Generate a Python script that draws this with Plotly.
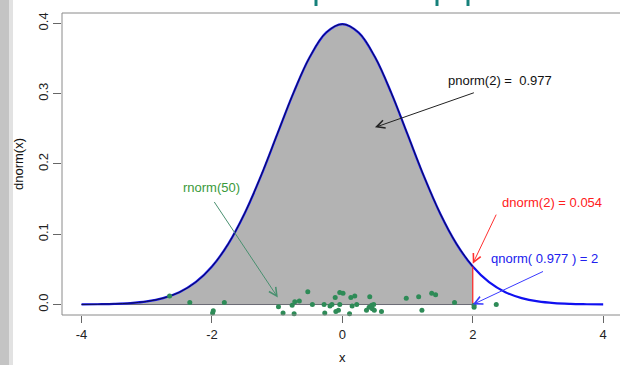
import plotly.graph_objects as go

# ---- data ----
curve_x = [-4.0, -3.75, -3.5, -3.25, -3.0, -2.75, -2.5, -2.25, -2.0, -1.75, -1.5, -1.25, -1.0, -0.75, -0.5, -0.25,
           0.0, 0.25, 0.5, 0.75, 1.0, 1.25, 1.5, 1.75, 2.0, 2.25, 2.5, 2.75, 3.0, 3.25, 3.5, 3.75, 4.0]
curve_y = [0.0001, 0.0004, 0.0009, 0.0020, 0.0044, 0.0091, 0.0175, 0.0317, 0.0540, 0.0863, 0.1295, 0.1826,
           0.2420, 0.3011, 0.3521, 0.3867, 0.3989, 0.3867, 0.3521, 0.3011, 0.2420, 0.1826, 0.1295, 0.0863,
           0.0540, 0.0317, 0.0175, 0.0091, 0.0044, 0.0020, 0.0009, 0.0004, 0.0001]
fill_upto = 2.0
dnorm_at_2 = 0.054

rnorm_x = [-2.65, -2.34, -1.99, -1.98, -1.81, -0.98, -0.91, -0.77, -0.73, -0.66, -0.74, -0.53, -0.46, -0.28,
           -0.27, -0.19, -0.16, -0.11, -0.04, 0.01, -0.10, -0.06, -0.04, 0.02, 0.11, 0.13, 0.19, 0.15, 0.22,
           0.23, 0.37, 0.41, 0.45, 0.46, 0.48, 0.42, 0.52, 0.49, 0.60, 0.98, 1.17, 1.22, 1.37, 1.43, 1.42,
           1.50, 1.72, 2.02, 2.02, 2.36]
rnorm_y = [0.012, 0.003, -0.012, -0.009, 0.003, -0.003, -0.012, -0.001, 0.004, 0.005, -0.013, 0.018, 0.0,
           0.0, -0.012, -0.002, 0.0, 0.010, 0.017, 0.016, -0.010, -0.008, 0.0, -0.019, -0.013, 0.010, 0.012,
           -0.002, 0.0, -0.016, -0.008, -0.004, -0.001, -0.006, 0.0, 0.011, -0.018, -0.008, -0.010, 0.009,
           0.011, -0.008, 0.016, 0.014, -0.019, -0.019, 0.003, -0.004, -0.001, 0.0]

x_ticks = [-4, -2, 0, 2, 4]
y_ticks = [0.0, 0.1, 0.2, 0.3, 0.4]

FONT = "Liberation Sans, Arial, sans-serif"

fill_x = [x for x in curve_x if x <= fill_upto]
fill_y = [y for x, y in zip(curve_x, curve_y) if x <= fill_upto]

fig = go.Figure()
# shaded area (polygon) under the curve up to x = 2
fig.add_trace(go.Scatter(x=fill_x, y=fill_y, mode="lines", line=dict(width=0, shape="spline"),
                         fill="tozeroy", fillcolor="#b3b3b3", hoverinfo="skip", showlegend=False))
fig.add_trace(go.Scatter(x=[fill_x[0], fill_upto], y=[0, 0], mode="lines", hoverinfo="skip",
                         line=dict(color="#6a6a74", width=1), showlegend=False))
# density curve
fig.add_trace(go.Scatter(x=curve_x, y=curve_y, mode="lines",
                         line=dict(color="#1010f0", width=2.2, shape="spline"), showlegend=False))
# polygon border drawn over the curve (dark)
fig.add_trace(go.Scatter(x=fill_x, y=fill_y, mode="lines", hoverinfo="skip",
                         line=dict(color="#10104a", width=1, shape="spline"), showlegend=False))
fig.add_trace(go.Scatter(x=[fill_upto, fill_upto], y=[0, dnorm_at_2], mode="lines",
                         line=dict(color="#ff2020", width=1.2), showlegend=False))
fig.add_trace(go.Scatter(x=rnorm_x, y=rnorm_y, mode="markers", cliponaxis=False,
                         marker=dict(color="#2e8b57", size=5), showlegend=False))

def arrow(x0, y0, x1, y1, color):
    fig.add_annotation(x=x1, y=y1, ax=x0, ay=y0, xref="x", yref="y", axref="x", ayref="y",
                       text="", showarrow=True, arrowhead=5, arrowsize=1.6, arrowwidth=1,
                       arrowcolor=color, standoff=0, startstandoff=0)

def label(x, y, text, color):
    fig.add_annotation(x=x, y=y, xref="x", yref="y", text=text, showarrow=False,
                       font=dict(family=FONT, size=13, color=color))

arrow(2.04, 0.302, 0.5, 0.252, "#222222")
label(2.42, 0.318, "pnorm(2) =  0.977", "#111111")
arrow(-1.98, 0.148, -0.99, 0.010, "#4a9070")
label(-2.0, 0.166, "rnorm(50)", "#3a9a3a")
arrow(2.37, 0.130, 2.0, 0.058, "#ff3030")
label(3.21, 0.145, "dnorm(2) = 0.054", "#ff2020")
arrow(3.1, 0.048, 2.0, 0.0, "#3a3aff")
label(3.1, 0.065, "qnorm( 0.977 ) = 2", "#2020ee")

# axis titles
fig.add_annotation(xref="paper", yref="paper", x=0, y=0.5, xshift=-44, xanchor="center", yanchor="middle",
                   text="dnorm(x)", textangle=-90,
                   showarrow=False, font=dict(family=FONT, size=13, color="#111111"))
fig.add_annotation(xref="x", yref="paper", x=0, y=0, yshift=-42, xanchor="center", yanchor="middle",
                   text="x", showarrow=False, font=dict(family=FONT, size=13, color="#111111"))

# layout geometry
W, H, L, T, B = 620, 365, 62, 13, 50
pw, ph = W - L, H - T - B
def px(x):
    return (x - L) / pw
def py(y):
    return 1 - (y - T) / ph
# decoration: gray strip on the left and clipped teal marks at the top
fig.add_shape(type="rect", xref="paper", yref="paper", x0=px(0), x1=px(9), y0=py(H), y1=py(0),
              fillcolor="#c4c4c4", line=dict(width=0), layer="below")
fig.add_shape(type="rect", xref="paper", yref="paper", x0=px(9), x1=px(13), y0=py(H), y1=py(0),
              fillcolor="#e2e2e2", line=dict(width=0), layer="below")
for cx in [316, 437, 468]:
    fig.add_shape(type="rect", xref="paper", yref="paper", x0=px(cx - 1.5), x1=px(cx + 1.5),
                  y0=py(6), y1=py(0), fillcolor="#16807a", line=dict(width=0))
# plot box: left, top and bottom edges (right edge lies outside the picture)
box = dict(color="#8a8a8a", width=1)
fig.add_shape(type="line", xref="paper", yref="paper", x0=0, x1=1.05, y0=0, y1=0, line=box)
fig.add_shape(type="line", xref="paper", yref="paper", x0=0, x1=1.05, y0=1, y1=1, line=box)
fig.add_shape(type="line", xref="paper", yref="paper", x0=0, x1=0, y0=0, y1=1, line=box)

fig.update_layout(
    width=W, height=H, margin=dict(l=L, r=0, t=T, b=B),
    paper_bgcolor="white", plot_bgcolor="white",
    font=dict(family=FONT, size=13, color="#222222"),
    xaxis=dict(range=[-4.30, 4.258], tickvals=x_ticks, ticktext=[str(v) for v in x_ticks],
               showgrid=False, zeroline=False, showline=False,
               ticks="outside", ticklen=7, tickcolor="#666666", automargin=False,
               tickfont=dict(family=FONT, size=13, color="#222222")),
    yaxis=dict(range=[-0.0149, 0.4147], tickvals=y_ticks, ticktext=["%.1f" % v for v in y_ticks],
               showgrid=False, zeroline=False, showline=False,
               ticks="outside", ticklen=8, tickcolor="#666666", tickangle=-90,
               automargin=False, tickfont=dict(family=FONT, size=13, color="#222222")),
)

fig.write_html("out.html", config={"displayModeBar": False},
               post_script="document.body.style.margin='0';document.body.style.overflow='hidden';")
